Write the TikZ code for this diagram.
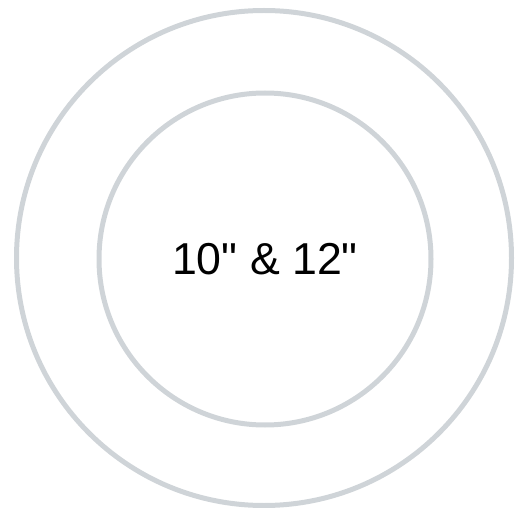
\documentclass[tikz,border=0pt]{standalone}
\usepackage{fontspec}
\setmainfont{Liberation Sans}
\usetikzlibrary{positioning}
\definecolor{ringgray}{RGB}{207,212,216}

\begin{document}
\begin{tikzpicture}[x=1pt,y=-1pt]
    \tikzset{ring/.style={circle,draw=ringgray,line width=5pt,inner sep=0pt}}
    \useasboundingbox (0,0) rectangle (520,508);
    \node[ring,minimum size=495pt] (outer) at (264,258) {};
    \node[ring,minimum size=332pt] (inner) at (265,259) {};
    \node[font=\fontsize{44.7}{50}\selectfont,inner sep=0pt] (size) at (inner.center) {10\textquotedbl{} \& 12\textquotedbl};
  \end{tikzpicture}
\end{document}
